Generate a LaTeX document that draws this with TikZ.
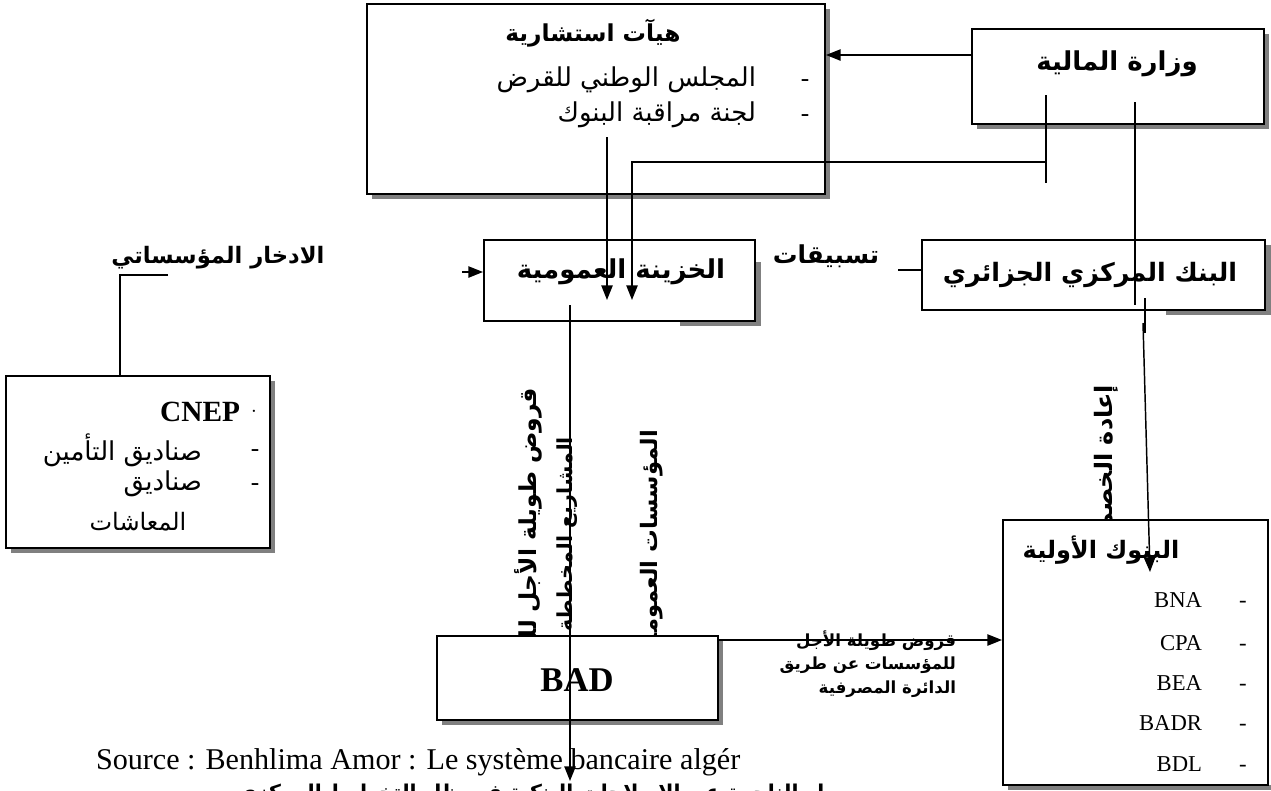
\documentclass[tikz,border=0pt]{standalone}
\usepackage{fontspec}
\setmainfont{Liberation Serif}
\newfontfamily\arabicfont[Script=Arabic]{DejaVu Sans}
\TeXXeTstate=1
\usetikzlibrary{fit,arrows.meta}
\newcommand{\artxt}[1]{{\arabicfont\beginR #1\endR}}
\newcommand{\fsz}[1]{\fontsize{#1}{#1}\selectfont}
\begin{document}
\begin{tikzpicture}[x=0.75pt,y=-0.75pt,
  box/.style={draw=black, line width=1.5pt, fill=white, inner sep=0pt},
  shd/.style={fill=black!50},
  conn/.style={draw=black, line width=1.1pt},
  arr/.style={conn, -{Triangle[length=11pt,width=8.5pt]}},
  lbl/.style={inner sep=0pt, outer sep=0pt},
]
\clip (0,0) rectangle (1271,790);
\fill[white] (0,0) rectangle (1271,790);

% ---------- rotated texts (partly hidden) ----------
\begin{scope}
\clip (480,330) rectangle (700,636);
\node[lbl, rotate=90, anchor=east] (v1) at (528,388) {\fsz{17.5}\bfseries\artxt{قروض طويلة الأجل للمشاريع}};
\node[lbl, rotate=90, anchor=east] (v2) at (567,437) {\fsz{15.5}\bfseries\artxt{المشاريع المخططة}};
\node[lbl, rotate=90, anchor=east] (v3) at (652,430) {\fsz{17}\bfseries\artxt{المؤسسات العمومية}};
\end{scope}
\begin{scope}
\clip (1060,330) rectangle (1140,520);
\node[lbl, rotate=90, anchor=east] (v4) at (1106,385) {\fsz{18}\bfseries\artxt{إعادة الخصم}};
\end{scope}

% ---------- shadows ----------
\fill[shd] (372,9) rectangle (830,199);
\fill[shd] (977,34) rectangle (1269,129);
\fill[shd] (756,262) rectangle (761,326);
\fill[shd] (680,321) rectangle (761,326);
\fill[shd] (1265,245) rectangle (1271,315);
\fill[shd] (1166,310) rectangle (1271,315);
\fill[shd] (11,381) rectangle (275,553);
\fill[shd] (442,641) rectangle (723,725);
\fill[shd] (1008,785) rectangle (1271,790);

% ---------- boxes ----------
\node[box, fit={(367,4)(825,194)}] (adv) {};
\node[box, fit={(972,29)(1264,124)}] (min) {};
\node[box, fit={(484,240)(755,321)}] (tr) {};
\node[box, fit={(922,240)(1265,310)}] (cb) {};
\node[box, fit={(6,376)(270,548)}] (cnep) {};
\node[box, fit={(437,636)(718,720)}] (bad) {};
\node[box, fit={(1003,520)(1268,785)}] (pb) {};

% ---------- texts ----------
\node[lbl] (advt) at (593,33) {\fsz{17.5}\bfseries\artxt{هيآت استشارية}};
\node[lbl, anchor=east] (adv1) at (756,80) {\fsz{19.5}\artxt{المجلس الوطني للقرض}};
\node[lbl] (adv1d) at (805,83) {\fsz{19}-};
\node[lbl, anchor=east] (adv2) at (756,115) {\fsz{19.5}\artxt{لجنة مراقبة البنوك}};
\node[lbl] (adv2d) at (805,118) {\fsz{19}-};
\node[lbl] (mint) at (1117,64) {\fsz{19.5}\bfseries\artxt{وزارة المالية}};
\node[lbl] (sav) at (218,258) {\fsz{17}\bfseries\artxt{الادخار المؤسساتي}};
\node[lbl] (trt) at (621,272) {\fsz{19.5}\bfseries\artxt{الخزينة العمومية}};
\node[lbl] (adv3) at (826,256) {\fsz{18.5}\bfseries\artxt{تسبيقات}};
\node[lbl] (cbt) at (1090,275) {\fsz{19}\bfseries\artxt{البنك المركزي الجزائري}};
\node[lbl, anchor=east] (cn0) at (240,412) {\fsz{22}\bfseries CNEP};
\node[lbl] (cn0d) at (254,414) {\fsz{14}·};
\node[lbl, anchor=east] (cn1) at (202,450) {\fsz{19.5}\artxt{صناديق التأمين}};
\node[lbl] (cn1d) at (255,453) {\fsz{19}-};
\node[lbl, anchor=east] (cn2) at (202,484) {\fsz{19.5}\artxt{صناديق}};
\node[lbl] (cn2d) at (255,487) {\fsz{19}-};
\node[lbl] (cn3) at (138,522) {\fsz{18}\artxt{المعاشات}};
\node[lbl] (badt) at (577,680) {\fsz{26}\bfseries BAD};
\node[lbl] (pbt) at (1101,550) {\fsz{18}\bfseries\artxt{البنوك الأولية}};
\foreach \nm/\yy in {BNA/607,CPA/650,BEA/690,BADR/730,BDL/771}{
  \node[lbl, anchor=base east] (b\nm) at (1202,\yy) {\fsz{17}\nm};
  \node[lbl, anchor=base] (d\nm) at (1243,\yy) {\fsz{17}-};
}
\node[lbl, anchor=east] (q1) at (956,641) {\fsz{12.5}\bfseries\artxt{قروض طويلة الأجل}};
\node[lbl, anchor=east] (q2) at (956,665) {\fsz{12.5}\bfseries\artxt{للمؤسسات عن طريق}};
\node[lbl, anchor=east] (q3) at (956,689) {\fsz{12.5}\bfseries\artxt{الدائرة المصرفية}};
\node[lbl, anchor=west] (src) at (96,762) {\fsz{22.6}Source : Benhlima Amor : Le système bancaire algér};
\node[lbl] (bot) at (531,794) {\fsz{15.3}\bfseries\artxt{ار الناجمة عن الإصلاحات البنكية في ظل التخطيط المركزي}};

% ---------- connectors ----------
\coordinate (yA) at (0,55);
\draw[arr] (min.west |- yA) -- (adv.east |- yA);
\coordinate (m1) at (1046,95);
\coordinate (m1b) at (1046,183);
\coordinate (m1c) at (1046,162);
\coordinate (t2) at (632,300);
\draw[conn] (m1) -- (m1b);
\draw[arr] (m1c) -| (t2);
\coordinate (a1) at (607,137);
\coordinate (t1) at (607,300);
\draw[arr] (a1) -- (t1);
\coordinate (m2) at (1135,102);
\coordinate (m2b) at (1135,305);
\draw[conn] (m2) -- (m2b);
\coordinate (c1) at (1145,298);
\coordinate (c1b) at (1145,333);
\draw[conn] (c1) -- (c1b);
\coordinate (c2) at (1143,323);
\coordinate (p1) at (1150,572);
\draw[arr] (c2) -- (p1);
\coordinate (yB) at (0,270);
\coordinate (cbs) at (898,270);
\draw[conn] (cb.west |- yB) -- (cbs);
\coordinate (s1) at (168,275);
\coordinate (s2) at (120,275);
\draw[conn] (s1) -- (s2) -- (s2 |- cnep.north);
\coordinate (l1) at (462,272);
\draw[arr] (l1) -- (l1 -| tr.west);
\coordinate (tv1) at (570,305);
\coordinate (tv2) at (570,781);
\draw[arr] (tv1) -- (tv2);
\coordinate (yC) at (0,640);
\draw[arr] (bad.east |- yC) -- (pb.west |- yC);
\end{tikzpicture}
\end{document}
